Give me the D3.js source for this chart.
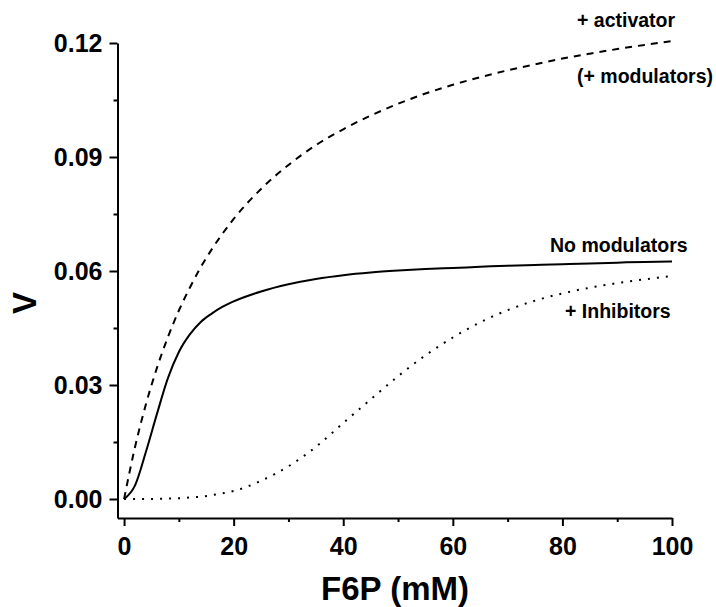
<!DOCTYPE html>
<html>
<head>
<meta charset="utf-8">
<script src="https://cdn.jsdelivr.net/npm/d3@7"></script>
<style>
  html, body { margin: 0; padding: 0; background: #fff; }
  svg { display: block; }
  text { font-family: "Liberation Sans", Arial, Helvetica, sans-serif; font-weight: bold; fill: #000; }
</style>
</head>
<body>
<svg id="chart" width="716" height="607"></svg>
<script>
// F6P concentration (mM)
const f6p = [0, 2, 4, 6, 8, 10, 12, 14, 16, 18, 20, 25, 30, 35, 40, 45, 50, 55, 60, 65, 70, 75, 80, 85, 90, 95, 100];

// Rate with no modulators
const noModulators = [0, 0.0036, 0.0125, 0.0224, 0.0318, 0.0387, 0.0433, 0.0466, 0.0488, 0.0506, 0.0520,
  0.0546, 0.0565, 0.0579, 0.0589, 0.0596, 0.0601, 0.0605, 0.0608, 0.0611, 0.0614, 0.0616, 0.0618, 0.0620, 0.0622, 0.0624, 0.0625];

// Rate with activator (+ modulators)
const withActivator = [0, 0.0137, 0.0250, 0.0345, 0.0426, 0.0496, 0.0556, 0.0610, 0.0657, 0.0699, 0.0737,
  0.0816, 0.0879, 0.0931, 0.0973, 0.1009, 0.1040, 0.1067, 0.1090, 0.1110, 0.1128, 0.1144, 0.1159, 0.1172, 0.1184, 0.1195, 0.1205];

// Rate with inhibitors
const withInhibitors = [0, 0, 0, 0.00003, 0.0001, 0.0002, 0.0004, 0.0006, 0.0010, 0.0015, 0.0021,
  0.0048, 0.0086, 0.0137, 0.0200, 0.0262, 0.0323, 0.0378, 0.0425, 0.0465, 0.0497, 0.0522, 0.0541, 0.0556, 0.0568, 0.0578, 0.0587];

const xMajorTicks = [0, 20, 40, 60, 80, 100];
const xMinorTicks = [10, 30, 50, 70, 90];
const yMajorTicks = [0, 0.03, 0.06, 0.09, 0.12];
const yMinorTicks = [0.015, 0.045, 0.075, 0.105];

const curveLabels = [
  { text: "+ activator", x: 577, y: 27 },
  { text: "(+ modulators)", x: 577, y: 83 },
  { text: "No modulators", x: 550, y: 252 },
  { text: "+ Inhibitors", x: 565, y: 318 }
];

const svg = d3.select("#chart");

const x = d3.scaleLinear().domain([-1.2, 100]).range([117.5, 672]);
const y = d3.scaleLinear().domain([-0.005, 0.12]).range([518, 43]);

// Axes
const xAxis = svg.append("g").attr("transform", `translate(0,${y.range()[0]})`)
  .call(d3.axisBottom(x).tickValues(xMajorTicks).tickSizeInner(8).tickSizeOuter(0).tickPadding(11)
    .tickFormat(d3.format("d")));
xAxis.select(".domain").attr("stroke-width", 2);
xAxis.selectAll(".tick line").attr("stroke-width", 2);
xAxis.selectAll(".tick text").style("font-size", "25px");

svg.append("g").attr("transform", `translate(0,${y.range()[0]})`)
  .call(d3.axisBottom(x).tickValues(xMinorTicks).tickSizeInner(4).tickSizeOuter(0).tickFormat(""))
  .call(g => g.select(".domain").remove())
  .selectAll(".tick line").attr("stroke-width", 2);

const yAxis = svg.append("g").attr("transform", `translate(${x.range()[0]},0)`)
  .call(d3.axisLeft(y).tickValues(yMajorTicks).tickSizeInner(8).tickSizeOuter(0).tickPadding(7)
    .tickFormat(d3.format(".2f")));
yAxis.select(".domain").attr("stroke-width", 2);
yAxis.selectAll(".tick line").attr("stroke-width", 2);
yAxis.selectAll(".tick text").style("font-size", "25px");

svg.append("g").attr("transform", `translate(${x.range()[0]},0)`)
  .call(d3.axisLeft(y).tickValues(yMinorTicks).tickSizeInner(4).tickSizeOuter(0).tickFormat(""))
  .call(g => g.select(".domain").remove())
  .selectAll(".tick line").attr("stroke-width", 2);

// Axis titles
svg.append("text")
  .attr("x", 395).attr("y", 600)
  .attr("text-anchor", "middle")
  .style("font-size", "33px")
  .text("F6P (mM)");

svg.append("text")
  .attr("transform", "translate(36,303) rotate(-90)")
  .attr("text-anchor", "middle")
  .style("font-size", "33px")
  .text("V");

// Curves
const line = d3.line()
  .x(d => x(d[0]))
  .y(d => y(d[1]))
  .curve(d3.curveMonotoneX);

const series = [
  { values: withActivator, dash: "7,6" },
  { values: noModulators, dash: null },
  { values: withInhibitors, dash: "2,7" }
];

series.forEach(s => {
  svg.append("path")
    .datum(f6p.map((v, i) => [v, s.values[i]]))
    .attr("fill", "none")
    .attr("stroke", "#000")
    .attr("stroke-width", 2)
    .attr("stroke-dasharray", s.dash)
    .attr("d", line);
});

// Curve annotations
svg.selectAll("text.curve-label")
  .data(curveLabels)
  .enter().append("text")
  .attr("class", "curve-label")
  .attr("x", d => d.x)
  .attr("y", d => d.y)
  .style("font-size", "19.5px")
  .text(d => d.text);
</script>
</body>
</html>
